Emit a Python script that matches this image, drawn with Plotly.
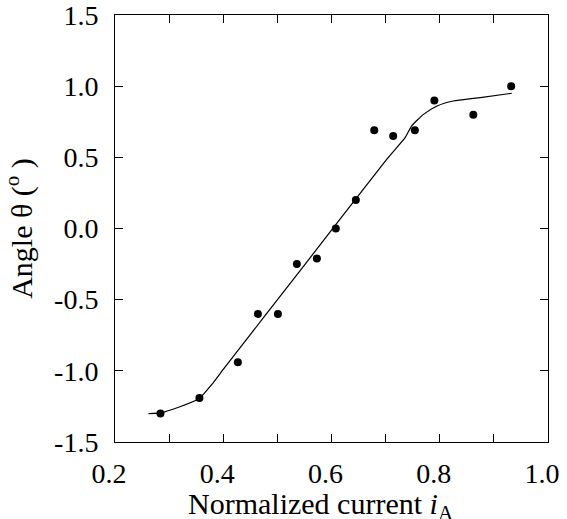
import plotly.graph_objects as go

# Measured data points
current = [0.284, 0.356, 0.427, 0.464, 0.501, 0.536, 0.573, 0.608, 0.645,
           0.679, 0.714, 0.754, 0.790, 0.862, 0.932]
angle = [-1.30, -1.19, -0.94, -0.60, -0.60, -0.25, -0.21, 0.00, 0.20,
         0.69, 0.65, 0.69, 0.90, 0.80, 1.00]

# Fitted curve (vertices)
fit_current = [0.262, 0.284, 0.320, 0.355, 0.379, 0.400, 0.550, 0.703,
               0.736, 0.748, 0.770, 0.795, 0.825, 0.875, 0.933]
fit_angle = [-1.300, -1.295, -1.252, -1.196, -1.095, -0.990, -0.257, 0.491,
             0.638, 0.720, 0.802, 0.861, 0.896, 0.920, 0.950]

x_ticks = [0.2, 0.3, 0.4, 0.5, 0.6, 0.7, 0.8, 0.9, 1.0]
x_ticktext = ["0.2", "", "0.4", "", "0.6", "", "0.8", "", "1.0"]
y_ticks = [-1.5, -1.0, -0.5, 0.0, 0.5, 1.0, 1.5]
y_ticktext = ["-1.5", "-1.0", "-0.5", "0.0", "0.5", "1.0", "1.5"]
x_title = "Normalized current <i>i</i><sub>A</sub>"
y_title = "Angle θ (<sup>o</sup> )"

fig = go.Figure()
fig.add_trace(go.Scatter(
    x=fit_current, y=fit_angle, mode="lines",
    line=dict(color="black", width=1.2, shape="spline", smoothing=0.5),
    showlegend=False, hoverinfo="skip"))
fig.add_trace(go.Scatter(
    x=current, y=angle, mode="markers",
    marker=dict(color="black", size=8),
    showlegend=False))

axis_common = dict(
    showline=True, linecolor="black", linewidth=1, mirror="ticks",
    ticks="inside", ticklen=8, tickwidth=1, tickcolor="black",
    showgrid=False, zeroline=False, automargin=False,
    ticklabeloverflow="allow",
)

fig.update_layout(
    width=567, height=519,
    margin=dict(l=115, r=19, t=15, b=77, autoexpand=False),
    paper_bgcolor="white", plot_bgcolor="white",
    font=dict(family="Liberation Serif", size=28, color="black"),
    xaxis=dict(range=[0.2, 1.0], tickvals=x_ticks, ticktext=x_ticktext,
               ticklabelstandoff=6, ticklabelshift=-6,
               **axis_common),
    yaxis=dict(range=[-1.5, 1.5], tickvals=y_ticks, ticktext=y_ticktext,
               ticklabelstandoff=10,
               title=dict(text=y_title, font=dict(size=30)),
               **axis_common),
    annotations=[dict(
        text=x_title, xref="paper", yref="paper", x=0.475, y=0,
        xanchor="center", yanchor="top", yshift=-43, showarrow=False,
        font=dict(size=30, family="Liberation Serif", color="black"))],
)

fig.write_html("out.html",
               config={"displayModeBar": False},
               post_script="document.body.style.margin='0px';"
                           "document.body.style.overflow='hidden';")
